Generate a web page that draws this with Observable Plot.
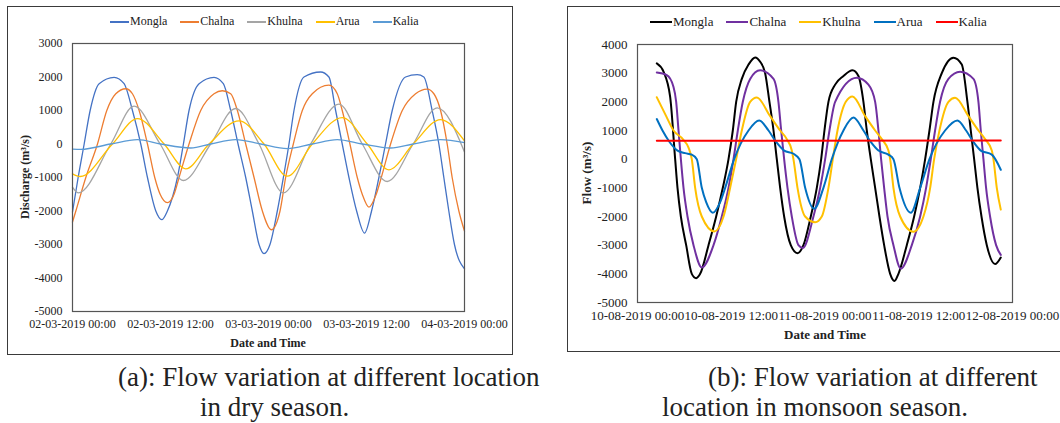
<!DOCTYPE html>
<html><head><meta charset="utf-8">
<script src="https://cdn.jsdelivr.net/npm/d3@7"></script>
<script src="https://cdn.jsdelivr.net/npm/@observablehq/plot@0.6"></script>
<style>
body{margin:0;background:#fff;font-family:"Liberation Serif","Times New Roman",serif;color:#222;}
#wrap{position:relative;width:1060px;height:423px;overflow:hidden;background:#fff;}
.box{position:absolute;border:1.5px solid #3a3a3a;box-sizing:border-box;}
.abs{position:absolute;white-space:nowrap;}
.leg{position:absolute;display:flex;align-items:center;white-space:nowrap;}
.item{display:flex;align-items:center;margin-right:13px;}
.sw{display:inline-block;margin-right:1px;}
.ttl{font-weight:bold;}
.cap{font-size:27px;line-height:30px;}
</style></head>
<body><div id="wrap"></div>
<script>
// ---------- Data (hours since start, discharge m³/s) ----------
const seriesNames = ["Mongla", "Chalna", "Khulna", "Arua", "Kalia"];

// (a) dry season, 02-03-2019 00:00 .. 04-03-2019 00:00
const dryMongla = [[0,-2030],[0.69,-1000],[1.43,0],[2.16,1000],[3.26,1800],[5.1,1990],[6.32,1800],[7.34,1000],[8.36,0],[9.18,-1000],[10.2,-2000],[10.93,-2260],[11.62,-2000],[12.85,-1000],[13.58,0],[14.27,1000],[15.5,1800],[17.33,1990],[18.47,1800],[19.37,1000],[20.27,0],[21.21,-1000],[22.02,-2000],[22.84,-3000],[23.45,-3270],[24.18,-3000],[25.08,-2000],[25.82,-1000],[26.51,0],[27.12,1000],[28.34,2000],[30.38,2150],[31.4,2000],[32.22,1000],[33.03,0],[33.85,-1000],[34.79,-2000],[35.76,-2660],[36.62,-2000],[37.52,-1000],[38.33,0],[39.15,1000],[40.78,2000],[42.21,2070],[43.02,2000],[44.04,1000],[44.86,0],[45.47,-1000],[46.08,-2000],[46.77,-3000],[48,-3730]];
const dryChalna = [[0,-2330],[0.41,-2000],[1.63,-1000],[3.06,0],[4.2,1000],[5.3,1500],[6.53,1650],[7.34,1500],[8.16,1000],[9.18,0],[10.07,-1000],[10.73,-1500],[11.62,-1750],[12.44,-1500],[13.05,-1000],[14.27,0],[15.7,1000],[17.33,1500],[18.35,1590],[19.37,1500],[20.19,1000],[21.21,0],[22.23,-1000],[23.25,-2000],[24.35,-2560],[25.41,-2000],[26.1,-1000],[27.04,0],[28.14,1000],[29.36,1500],[31.4,1755],[32.42,1500],[33.03,1000],[33.97,0],[34.87,-1000],[35.48,-1500],[36.3,-1885],[37.19,-1500],[37.81,-1000],[38.95,0],[40.38,1000],[42.01,1500],[43.43,1640],[44.25,1500],[45.07,1000],[45.88,0],[46.49,-1000],[47.31,-2000],[48,-2600]];
const dryKhulna = [[0,-1290],[0.69,-1460],[4.69,0],[7.54,1130],[10.73,0],[13.58,-1090],[16.92,0],[19.98,1060],[22.84,0],[25.82,-1460],[29.16,0],[32.63,1190],[35.48,0],[38.54,-1120],[41.72,0],[44.66,1080],[48,-240]];
const dryArua = [[0,-890],[0.94,-970],[4.89,0],[7.95,760],[11.22,0],[13.87,-740],[16.72,0],[20.39,690],[23.45,0],[26.3,-960],[29.36,0],[33.03,790],[36.09,0],[38.74,-770],[41.72,0],[45.07,730],[48,90]];
const dryKalia = [[0,-150],[1.02,-160],[4.69,0],[7.95,130],[10.81,0],[14.48,-120],[16.92,0],[19.98,130],[23.04,0],[26.3,-140],[29.36,0],[32.42,130],[35.48,0],[38.95,-120],[41.72,0],[45.07,130],[48,40]];

// (b) monsoon season, 10-08-2019 00:00 .. 12-08-2019 00:00
const wetMongla = [[2.47,3340],[3.33,3050],[4.18,2170],[4.82,0],[5.12,-1000],[5.55,-2000],[6.23,-3000],[6.95,-4000],[7.51,-4150],[8.02,-4000],[9.09,-3000],[10.07,-2000],[10.92,-1000],[11.65,0],[12.2,1000],[12.63,2000],[13.35,2800],[14.21,3300],[15.06,3550],[15.7,3400],[16.34,3000],[16.89,2000],[17.41,1000],[17.83,0],[18.26,-1000],[18.77,-2000],[19.62,-3000],[20.48,-3280],[21.24,-3000],[22.18,-2000],[22.95,-1000],[23.51,0],[23.93,1000],[24.44,2000],[25.3,2600],[26.36,2900],[27.52,3100],[28.28,2900],[28.92,2000],[29.35,1000],[29.86,0],[30.42,-1000],[30.97,-2000],[31.57,-3000],[32.34,-4000],[32.89,-4250],[33.4,-4000],[34.47,-3000],[35.41,-2000],[36.18,-1000],[36.82,0],[37.37,1000],[37.88,2000],[38.95,3000],[40.44,3540],[41.51,3300],[42.23,2000],[42.66,1000],[43.09,0],[43.51,-1000],[44.03,-2000],[44.71,-3000],[45.77,-3660],[46.5,-3430]];
const wetChalna = [[2.47,3020],[3.75,2930],[4.61,2520],[4.95,2000],[5.25,1000],[5.55,0],[5.89,-1000],[6.4,-2000],[7.17,-3000],[8.23,-3780],[9.73,-3000],[10.79,-2000],[11.65,-1000],[12.29,0],[12.84,1000],[13.48,2000],[14.42,2800],[15.7,3100],[17.41,2800],[18.04,2000],[18.39,1000],[18.77,0],[19.2,-1000],[19.75,-2000],[20.6,-3000],[21.16,-3100],[22.52,-2000],[23.38,-1000],[24.02,0],[24.57,1000],[25.3,2000],[28.07,2840],[29.56,2600],[30.42,2000],[30.84,1000],[31.18,0],[31.57,-1000],[32.0,-2000],[32.76,-3000],[33.7,-3820],[35.11,-3000],[36.18,-2000],[36.94,-1000],[37.54,0],[38.09,1000],[38.73,2000],[39.8,2800],[41.29,3050],[43.0,2800],[43.64,2000],[43.94,1000],[44.28,0],[44.62,-1000],[45.13,-2000],[45.9,-3000],[46.5,-3340]];
const wetKhulna = [[2.47,2160],[3.67,1500],[4.61,1000],[5.8,700],[6.53,400],[6.95,0],[7.38,-1000],[8.23,-2000],[9.85,-2520],[11.01,-2000],[11.86,-1000],[12.63,0],[13.35,1000],[14.42,2000],[15.27,2150],[16.98,1500],[18.26,1000],[19.11,700],[19.75,300],[19.96,0],[20.48,-1000],[21.46,-2000],[22.74,-2200],[23.59,-2000],[24.44,-1000],[25.0,0],[25.6,1000],[26.66,2000],[27.52,2190],[29.14,1500],[30.42,1000],[31.27,700],[32.12,300],[32.34,0],[32.76,-1000],[33.62,-2000],[35.32,-2530],[36.6,-2000],[37.46,-1000],[37.97,0],[38.65,1000],[39.8,2000],[40.65,2140],[42.36,1500],[43.64,1000],[44.49,700],[45.35,300],[45.56,0],[45.99,-1000],[46.5,-1760]];
const wetArua = [[2.47,1400],[3.2,1000],[4.1,600],[5.12,300],[6.1,210],[6.95,160],[7.59,0],[8.23,-1000],[8.79,-1500],[9.64,-1870],[10.58,-1500],[11.22,-1000],[12.37,0],[14.21,1000],[15.57,1350],[16.77,1000],[17.75,600],[18.77,300],[19.96,190],[20.73,0],[21.46,-1000],[22.61,-1730],[23.8,-1000],[24.87,0],[26.36,1000],[27.64,1450],[28.92,1000],[29.86,600],[30.84,300],[32.12,160],[32.76,0],[33.53,-1000],[34.98,-1870],[36.18,-1000],[37.37,0],[39.37,1000],[40.95,1350],[42.06,1000],[43.0,600],[43.94,300],[45.35,160],[46.5,-370]];
const wetKalia = [[2.47,640],[46.5,650]];

const yTicksDry = [-5000,-4000,-3000,-2000,-1000,0,1000,2000,3000];
const yTicksWet = [-5000,-4000,-3000,-2000,-1000,0,1000,2000,3000,4000];
const xTicks = [0,12,24,36,48];
const xLabelsDry = ["02-03-2019 00:00","02-03-2019 12:00","03-03-2019 00:00","03-03-2019 12:00","04-03-2019 00:00"];
const xLabelsWet = ["10-08-2019 00:00","10-08-2019 12:00","11-08-2019 00:00","11-08-2019 12:00","12-08-2019 00:00"];
const colorsDry = ["#4472C4","#ED7D31","#A5A5A5","#FFC000","#5B9BD5"];
const colorsWet = ["#000000","#7030A0","#FFC000","#0070C0","#FF0000"];

const dryData = [dryMongla, dryChalna, dryKhulna, dryArua, dryKalia];
const wetData = [wetMongla, wetChalna, wetKhulna, wetArua, wetKalia];
const toRows = arr => arr.flatMap((s, i) => s.map(([t, v]) => ({name: seriesNames[i], t, v})));

const wrap = document.getElementById("wrap");
function el(html) { const d = document.createElement("div"); d.innerHTML = html; const n = d.firstElementChild; wrap.appendChild(n); return n; }

// boxes
el(`<div class="box" style="left:7px;top:6px;width:506px;height:349px"></div>`);
el(`<div class="box" style="left:567px;top:6px;width:500px;height:346px"></div>`);

function makePlot(rows, colors, yTicks, yDomain, xLabels, sw, opts) {
  const p = Plot.plot({
    width: opts.width, height: opts.height,
    marginLeft: opts.ml, marginRight: opts.mr, marginTop: opts.mt, marginBottom: opts.mb,
    style: {fontFamily: '"Liberation Serif","Times New Roman",serif', fontSize: opts.fs + "px", color: "#222", background: "transparent", overflow: "visible"},
    x: {domain: [0, 48]},
    y: {domain: yDomain},
    color: {domain: seriesNames, range: colors},
    marks: [
      Plot.axisX({ticks: xTicks, tickSize: 0, tickPadding: opts.xpad, tickFormat: d => xLabels[xTicks.indexOf(d)], label: null, fill: "#222"}),
      Plot.axisY({ticks: yTicks, tickSize: 0, tickPadding: 10, tickFormat: d => String(d), label: null, fill: "#222"}),
      Plot.line(rows, {x: "t", y: "v", z: "name", stroke: "name", strokeWidth: sw, curve: "monotone-x"}),
      Plot.frame({stroke: "#555", strokeWidth: 1.2})
    ]
  });
  p.style.position = "absolute";
  p.style.left = opts.left + "px";
  p.style.top = "0px";
  wrap.appendChild(p);
}

makePlot(toRows(dryData), colorsDry, yTicksDry, [-5000, 3000], xLabelsDry, 1.3,
  {width: 512, height: 354, ml: 72, mr: 48, mt: 43, mb: 43, xpad: 8, left: 0, fs: 12});
makePlot(toRows(wetData), colorsWet, yTicksWet, [-5000, 4000], xLabelsWet, 2,
  {width: 500, height: 353, ml: 77, mr: 48, mt: 44, mb: 51, xpad: 8, left: 560, fs: 13});

// legends
function legend(left, top, colors, swW, swH, fs) {
  const items = seriesNames.map((n, i) =>
    `<span class="item"><span class="sw" style="width:${swW}px;height:${swH}px;background:${colors[i]}"></span>${n}</span>`).join("");
  el(`<div class="leg" style="left:${left}px;top:${top}px;height:15px;font-size:${fs}px">${items}</div>`);
}
legend(110, 14, colorsDry, 19, 2, 12);
legend(650, 14, colorsWet, 22, 2, 13);

// axis titles
el(`<div class="abs ttl" style="font-size:12px;left:25px;top:177px;transform:translate(-50%,-50%) rotate(-90deg)">Discharge (m³/s)</div>`);
el(`<div class="abs ttl" style="font-size:12px;left:268px;top:343px;transform:translate(-50%,-50%)">Date and Time</div>`);
el(`<div class="abs ttl" style="font-size:13px;left:587px;top:173px;transform:translate(-50%,-50%) rotate(-90deg)">Flow (m³/s)</div>`);
el(`<div class="abs ttl" style="font-size:13px;left:825px;top:335px;transform:translate(-50%,-50%)">Date and Time</div>`);

// captions
el(`<div class="abs cap" style="left:118px;top:362px">(a): Flow variation at different location</div>`);
el(`<div class="abs cap" style="left:200px;top:392px">in dry season.</div>`);
el(`<div class="abs cap" style="left:708px;top:362px">(b): Flow variation at different</div>`);
el(`<div class="abs cap" style="left:662px;top:392px">location in monsoon season.</div>`);
</script></body></html>
